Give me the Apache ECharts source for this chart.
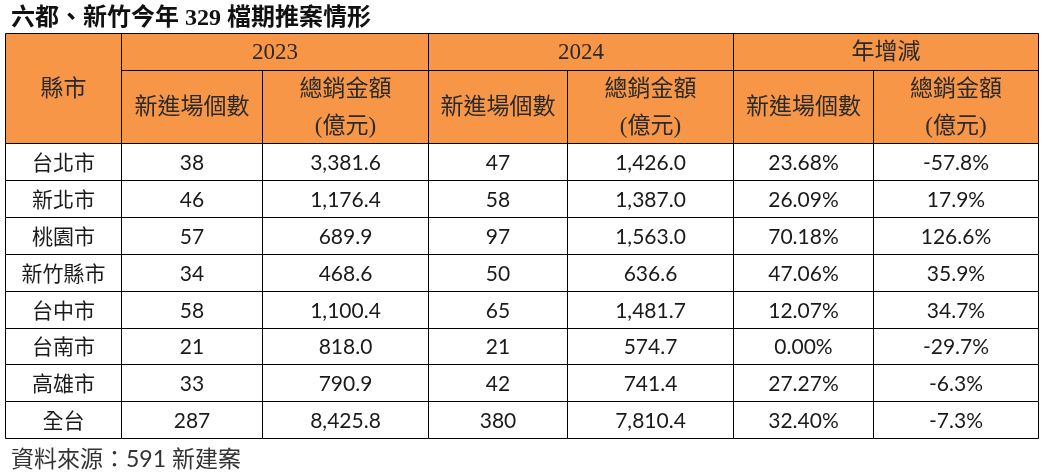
<!DOCTYPE html>
<html>
<head>
<meta charset="utf-8">
<script src="https://cdn.jsdelivr.net/npm/echarts@6/dist/echarts.min.js"></script>
<style>
html,body{margin:0;padding:0;background:#fff;}
#chart{width:1042px;height:474px;}
</style>
</head>
<body>
<div id="chart"></div>
<script>
// ---- data ----
const chartTitle = '六都、新竹今年 329 檔期推案情形';
const sourceNote = '資料來源：591 新建案';
const cityHeader = '縣市';
const groupHeaders = ['2023', '2024', '年增減'];
const subHeaders = ['新進場個數', '總銷金額\n(億元)'];
const cities = ['台北市', '新北市', '桃園市', '新竹縣市', '台中市', '台南市', '高雄市', '全台'];
const count2023 = [38, 46, 57, 34, 58, 21, 33, 287];
const sales2023 = [3381.6, 1176.4, 689.9, 468.6, 1100.4, 818.0, 790.9, 8425.8];
const count2024 = [47, 58, 97, 50, 65, 21, 42, 380];
const sales2024 = [1426.0, 1387.0, 1563.0, 636.6, 1481.7, 574.7, 741.4, 7810.4];
const countYoY = [23.68, 26.09, 70.18, 47.06, 12.07, 0.00, 27.27, 32.40];
const salesYoY = [-57.8, 17.9, 126.6, 35.9, 34.7, -29.7, -6.3, -7.3];

// ---- layout (not data) ----
const colWidths = [116, 141, 166, 139, 166, 140, 165];
const colEdges = [0];
colWidths.forEach(w => colEdges.push(colEdges[colEdges.length - 1] + w));
const headerFill = '#F79646';
const headFont = '"Liberation Serif", "Noto Sans CJK TC", serif';
const bodyFont = 'Lato, "Noto Sans CJK TC", sans-serif';

const fmtSales = v => v.toLocaleString('en-US', {minimumFractionDigits: 1, maximumFractionDigits: 1});
const fmtPct = d => v => v.toFixed(d) + '%';

// build cells: [c0, c1, r0, r1, text, kind]
const cells = [];
cells.push([0, 1, 0, 3, cityHeader, 'head']);
groupHeaders.forEach((g, i) => {
  cells.push([1 + i * 2, 3 + i * 2, 0, 1, g, 'head']);
  subHeaders.forEach((s, j) => cells.push([1 + i * 2 + j, 2 + i * 2 + j, 1, 3, s, 'head']));
});
const bodyCols = [
  cities.map(String),
  count2023.map(String),
  sales2023.map(fmtSales),
  count2024.map(String),
  sales2024.map(fmtSales),
  countYoY.map(fmtPct(2)),
  salesYoY.map(fmtPct(1))
];
bodyCols.forEach((col, c) => {
  col.forEach((txt, r) => cells.push([c, c + 1, 3 + r, 4 + r, txt, 'body']));
});

const chart = echarts.init(document.getElementById('chart'), null, {renderer: 'canvas'});
chart.setOption({
  backgroundColor: '#ffffff',
  animation: false,
  title: [
    {text: chartTitle, left: 6, top: 2,
     textStyle: {fontFamily: headFont, fontSize: 24, fontWeight: 'bold', color: '#111'}},
    {text: sourceNote, left: 6, top: 443,
     textStyle: {fontFamily: bodyFont, fontSize: 23, fontWeight: 'normal', color: '#333'}}
  ],
  grid: {left: 5, right: 4, top: 33, bottom: 36, containLabel: false},
  xAxis: {type: 'value', min: 0, max: colEdges[colEdges.length - 1], show: false},
  yAxis: {type: 'value', min: 0, max: 3 + cities.length, inverse: true, show: false},
  series: [{
    type: 'custom',
    clip: false,
    data: cells.map((c, i) => [i]),
    renderItem: function (params, api) {
      const cell = cells[params.dataIndex];
      const p0 = api.coord([colEdges[cell[0]], cell[2]]);
      const p1 = api.coord([colEdges[cell[1]], cell[3]]);
      const x0 = Math.round(p0[0]) + 0.5, y0 = Math.round(p0[1]) + 0.5;
      const x1 = Math.round(p1[0]) + 0.5, y1 = Math.round(p1[1]) + 0.5;
      const isHead = cell[5] === 'head';
      return {
        type: 'group',
        children: [
          {type: 'rect', shape: {x: x0, y: y0, width: x1 - x0, height: y1 - y0},
           style: {fill: isHead ? headerFill : '#ffffff', stroke: '#000', lineWidth: 1}},
          {type: 'text',
           style: {
             text: cell[4],
             x: (x0 + x1) / 2, y: (y0 + y1) / 2 + 1,
             align: 'center', verticalAlign: 'middle',
             fontFamily: isHead ? headFont : bodyFont,
             fontSize: isHead ? 23 : 21,
             lineHeight: 37,
             fill: isHead ? '#2a2a2a' : '#1a1a1a'
           }}
        ]
      };
    }
  }]
});
</script>
</body>
</html>
